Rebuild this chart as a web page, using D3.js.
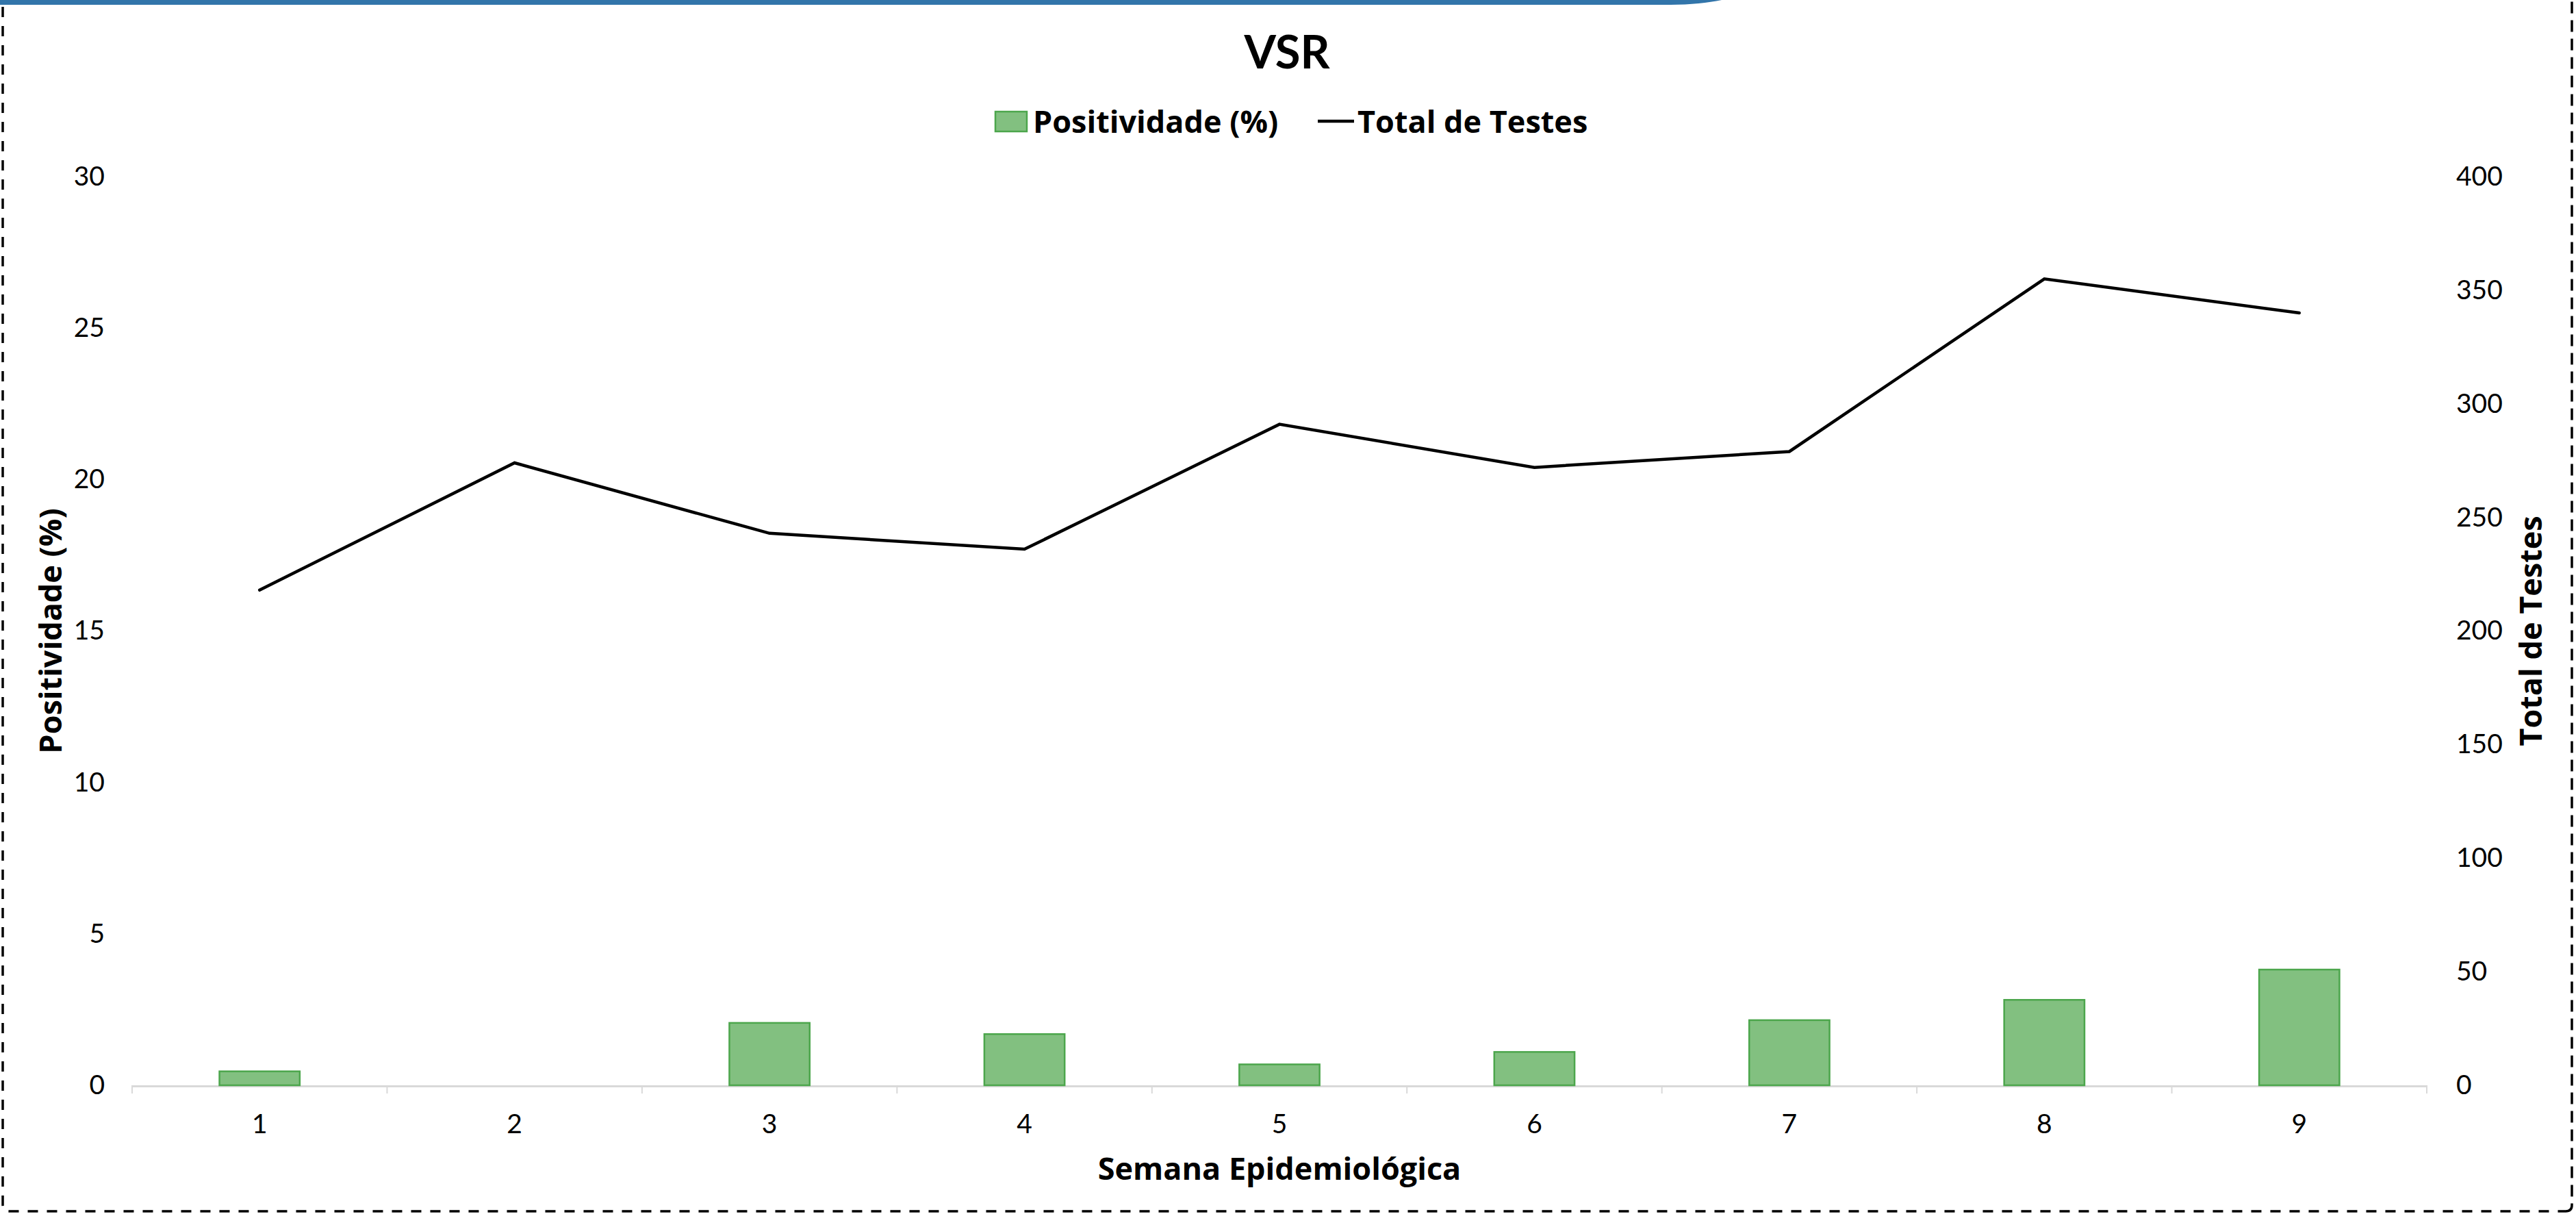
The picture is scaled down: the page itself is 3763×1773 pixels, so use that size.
<!DOCTYPE html>
<html>
<head>
<meta charset="utf-8">
<script src="https://cdn.jsdelivr.net/npm/d3@7"></script>
<style>
    body { margin: 0; background: #fff; }
    svg text { font-family: Lato, "Open Sans", sans-serif; fill: #000; }
    svg text.bold-label { font-family: "Open Sans", Lato, sans-serif; font-weight: bold; font-size: 45px; }
</style>
</head>
<body>
<svg id="mainSVG" width="3763" height="1773"></svg>
<script>
const semanas = ["1", "2", "3", "4", "5", "6", "7", "8", "9"];
const positividade = [0.46, 0, 2.06, 1.69, 0.69, 1.10, 2.15, 2.82, 3.82];
const totalTestes = [218, 274, 243, 236, 291, 272, 279, 355, 340];
const ticksPositividade = [0, 5, 10, 15, 20, 25, 30];
const ticksTestes = [0, 50, 100, 150, 200, 250, 300, 350, 400];

const svg = d3.select("#mainSVG");
const plot = {left: 193, right: 3545, top: 258, bottom: 1585};

const x = d3.scaleBand().domain(semanas).range([plot.left, plot.right]).padding(0);
const yLeft = d3.scaleLinear().domain([0, 30]).range([plot.bottom, plot.top]);
const yRight = d3.scaleLinear().domain([0, 400]).range([plot.bottom, plot.top]);
const barWidth = x.bandwidth() * 0.315;

drawFrame();
drawAxes();
drawSeries();
drawLabels();

function drawFrame() {
    // blue band along the top
    svg.append("path")
        .attr("d", "M0,0 L2515,0 C2495,4 2470,7 2440,7 L0,7 Z")
        .attr("fill", "#3275AA");

    const frame = svg.append("g")
        .attr("fill", "none")
        .attr("stroke", "#000")
        .attr("stroke-width", 3.5);

    frame.append("path")
        .attr("d", "M4,10 L4,1760 Q4,1769 13,1769 L3748,1769")
        .attr("stroke-dasharray", "15,13");

    frame.append("path")
        .attr("d", "M3748,1769 Q3757,1769 3757,1760 L3757,0")
        .attr("stroke-dasharray", "17,10");
}

function drawAxes() {
    // category axis, ticks between the weeks
    const xAxis = svg.append("g");
    xAxis.append("line")
        .attr("x1", plot.left).attr("x2", plot.right)
        .attr("y1", plot.bottom + 1.5).attr("y2", plot.bottom + 1.5)
        .attr("stroke", "#D9D9D9")
        .attr("stroke-width", 3);

    const bounds = semanas.map(d => x(d)).concat([plot.right]);
    xAxis.selectAll(".tick-mark")
        .data(bounds)
        .join("line")
        .attr("class", "tick-mark")
        .attr("x1", d => d).attr("x2", d => d)
        .attr("y1", plot.bottom).attr("y2", plot.bottom + 12)
        .attr("stroke", "#D9D9D9")
        .attr("stroke-width", 2);

    const labels = svg.append("g")
        .attr("transform", "translate(0," + plot.bottom + ")")
        .call(d3.axisBottom(x).tickSize(0).tickPadding(42));
    labels.select(".domain").remove();
    labels.selectAll("text").style("font-size", "39px");

    const left = svg.append("g")
        .attr("transform", "translate(" + plot.left + ",0)")
        .call(d3.axisLeft(yLeft).tickValues(ticksPositividade).tickSize(0).tickPadding(40));
    left.select(".domain").remove();
    left.selectAll("text").style("font-size", "39px");

    const right = svg.append("g")
        .attr("transform", "translate(" + plot.right + ",0)")
        .call(d3.axisRight(yRight).tickValues(ticksTestes).tickSize(0).tickPadding(43));
    right.select(".domain").remove();
    right.selectAll("text").style("font-size", "39px");
}

function drawSeries() {
    svg.append("g")
        .selectAll("rect")
        .data(positividade)
        .join("rect")
        .attr("x", (d, i) => x(semanas[i]) + (x.bandwidth() - barWidth) / 2)
        .attr("y", d => yLeft(d))
        .attr("width", barWidth)
        .attr("height", d => plot.bottom - yLeft(d))
        .attr("fill", "#82C080")
        .attr("stroke", d => d > 0 ? "#4CA64C" : "none")
        .attr("stroke-width", 2.5);

    const line = d3.line()
        .x((d, i) => x(semanas[i]) + x.bandwidth() / 2)
        .y(d => yRight(d));

    svg.append("path")
        .datum(totalTestes)
        .attr("d", line)
        .attr("fill", "none")
        .attr("stroke", "#000")
        .attr("stroke-width", 4.5)
        .attr("stroke-linejoin", "miter")
        .attr("stroke-linecap", "round");
}

function drawLabels() {
    svg.append("text")
        .attr("x", 1880).attr("y", 100)
        .attr("text-anchor", "middle")
        .style("font-size", "67px")
        .style("font-weight", "bold")
        .text("VSR");

    // legend
    svg.append("rect")
        .attr("x", 1454).attr("y", 163)
        .attr("width", 46).attr("height", 29)
        .attr("fill", "#82C080")
        .attr("stroke", "#4CA64C")
        .attr("stroke-width", 2.5);
    svg.append("text")
        .attr("class", "bold-label")
        .attr("x", 1509).attr("y", 194)
        .text("Positividade (%)");
    svg.append("line")
        .attr("x1", 1925).attr("x2", 1978)
        .attr("y1", 177).attr("y2", 177)
        .attr("stroke", "#000")
        .attr("stroke-width", 4.5);
    svg.append("text")
        .attr("class", "bold-label")
        .attr("x", 1983).attr("y", 194)
        .text("Total de Testes");

    // axis titles
    svg.append("text")
        .attr("class", "bold-label")
        .attr("transform", "translate(90," + (plot.top + plot.bottom) / 2 + ") rotate(-90)")
        .attr("text-anchor", "middle")
        .text("Positividade (%)");

    svg.append("text")
        .attr("class", "bold-label")
        .attr("transform", "translate(3713," + (plot.top + plot.bottom) / 2 + ") rotate(-90)")
        .attr("text-anchor", "middle")
        .text("Total de Testes");

    svg.append("text")
        .attr("class", "bold-label")
        .attr("x", (plot.left + plot.right) / 2).attr("y", 1723)
        .attr("text-anchor", "middle")
        .text("Semana Epidemiológica");
}
</script>
</body>
</html>
